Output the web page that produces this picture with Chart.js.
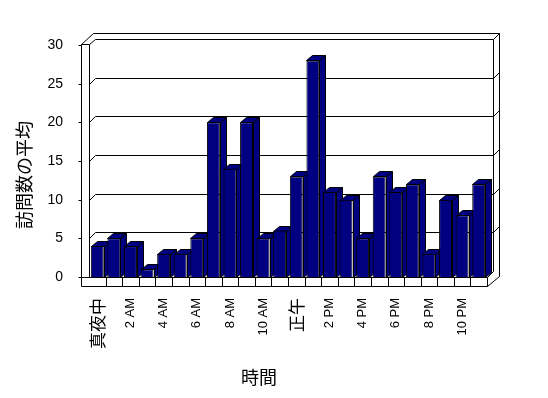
<!DOCTYPE html>
<html>
<head>
<meta charset="utf-8">
<script src="https://cdn.jsdelivr.net/npm/chart.js@4/dist/chart.umd.min.js"></script>
<style>
html,body{margin:0;padding:0;background:#fff;}
#wrap{width:548px;height:398px;position:relative;}
</style>
</head>
<body>
<div id="wrap"><canvas id="c"></canvas></div>
<script>
// ---- data ----
const categories = ["真夜中","1 AM","2 AM","3 AM","4 AM","5 AM","6 AM","7 AM","8 AM","9 AM","10 AM","11 AM",
                    "正午","1 PM","2 PM","3 PM","4 PM","5 PM","6 PM","7 PM","8 PM","9 PM","10 PM","11 PM"];
const visits = [4,5,4,1,3,3,5,20,14,20,5,6,13,28,11,10,5,13,11,12,3,10,8,12];
const yTicks = [0,5,10,15,20,25,30];
const yTitle = "訪問数の平均";
const xTitle = "時間";

const LAT = "'Liberation Sans', Arial, sans-serif";
const CJK = "'Noto Sans CJK JP', sans-serif";
const isCJK = s => /[\u3000-\u9fff]/.test(s);

const D = 6;          // wall depth offset
const BX = 6, BY = 5; // bar depth offset

function line(ctx, pts){
  ctx.beginPath();
  ctx.moveTo(pts[0][0]+0.5, pts[0][1]+0.5);
  for(let i=1;i<pts.length;i++) ctx.lineTo(pts[i][0]+0.5, pts[i][1]+0.5);
  ctx.stroke();
}

const box3d = {
  id:'box3d',
  beforeDatasetsDraw(chart){
    const ctx = chart.ctx, a = chart.chartArea;
    const ys = chart.scales.y, xs = chart.scales.x;
    const L = Math.round(a.left), R = Math.round(a.right), T = Math.round(a.top), B = Math.round(a.bottom);
    const WL = L - 8;       // left wall outer edge
    const FB = B + 9;       // floor bottom
    const OT = T - 12;      // outer top
    ctx.save();
    ctx.strokeStyle = '#000';
    ctx.lineWidth = 1;
    // back wall inner plane edges
    line(ctx, [[L+D, T-D],[R+D, T-D],[R+D, B-D]]);
    // back wall outer
    line(ctx, [[WL+12, OT],[R+12, OT],[R+12, B-1]]);
    line(ctx, [[R+D, T-D],[R+12, OT]]);
    // left wall
    line(ctx, [[WL, T-1],[WL, FB]]);
    line(ctx, [[L, T-1],[L, B]]);
    line(ctx, [[WL, T-1],[L, T-1]]);
    line(ctx, [[WL, T-1],[WL+12, OT]]);
    line(ctx, [[L, T-1],[L+D, T-D]]);
    // gridlines on left + back wall, edge ticks
    yTicks.forEach(v=>{
      const y = Math.round(ys.getPixelForValue(v));
      if (v>0 && v<30){
        line(ctx, [[L, y],[L+D, y-D],[R+D, y-D],[R+12, y-12]]);
      }
      line(ctx, [[WL-3, y],[WL, y]]);
    });
    // floor slab with category cells
    line(ctx, [[WL, B],[R, B],[R, FB],[WL, FB]]);
    for (let i=1;i<categories.length;i++){
      const x = Math.round((xs.getPixelForValue(i-1)+xs.getPixelForValue(i))/2);
      line(ctx, [[x, B],[x, FB]]);
    }
    line(ctx, [[R, B],[R+D, B-D]]);
    line(ctx, [[R, FB],[R+12, FB-10]]);
    // bar sides and tops (fronts drawn by Chart.js)
    const meta = chart.getDatasetMeta(0);
    meta.data.forEach(el=>{
      const p = el.getProps(['x','y','base','width'], true);
      const x1 = Math.round(p.x - p.width/2), x2 = Math.round(p.x + p.width/2);
      const y = Math.round(p.y), b = Math.round(p.base);
      ctx.fillStyle = '#000080';
      ctx.beginPath();
      ctx.moveTo(x2+0.5, y+0.5); ctx.lineTo(x2+BX+0.5, y-BY+0.5);
      ctx.lineTo(x2+BX+0.5, b-BY+0.5); ctx.lineTo(x2+0.5, b+0.5); ctx.closePath();
      ctx.fill(); ctx.stroke();
      ctx.beginPath();
      ctx.moveTo(x1+0.5, y+0.5); ctx.lineTo(x1+BX+0.5, y-BY+0.5);
      ctx.lineTo(x2+BX+0.5, y-BY+0.5); ctx.lineTo(x2+0.5, y+0.5); ctx.closePath();
      ctx.fill(); ctx.stroke();
    });
    ctx.restore();
  },
  afterDraw(chart){
    const ctx = chart.ctx;
    ctx.save();
    ctx.fillStyle = '#000';
    ctx.font = "18px " + CJK;
    ctx.textAlign = 'center';
    ctx.textBaseline = 'middle';
    ctx.fillText(xTitle, 259, 377);
    ctx.translate(24, 175);
    ctx.rotate(-Math.PI/2);
    ctx.fillText(yTitle, 0, 0);
    ctx.restore();
  }
};

new Chart(document.getElementById('c'), {
  type:'bar',
  data:{
    labels: categories,
    datasets:[{
      data: visits,
      backgroundColor:'#000080',
      borderColor:'#000',
      borderWidth:1,
      barPercentage:0.78,
      categoryPercentage:1.0
    }]
  },
  options:{
    responsive:true,
    maintainAspectRatio:false,
    animation:false,
    events:[],
    layout:{padding:{left:0,top:45,right:61,bottom:0}},
    plugins:{legend:{display:false},tooltip:{enabled:false},title:{display:false}},
    scales:{
      x:{
        grid:{display:false,drawTicks:false},
        border:{display:false},
        afterFit(s){ s.height = 121; },
        ticks:{
          autoSkip:false,
          minRotation:90,maxRotation:90,
          padding:21,
          color:'#000',
          font:(ctx)=>{
            const lab = categories[ctx.index] || '';
            return isCJK(lab) ? {family:CJK,size:17} : {family:LAT,size:13};
          },
          callback:(v,i)=> i%2===0 ? categories[i] : ''
        }
      },
      y:{
        min:0,max:30,
        grid:{display:false,drawTicks:false},
        border:{display:false},
        afterFit(s){ s.width = 89; },
        afterBuildTicks(s){ s.ticks = yTicks.map(v=>({value:v})); },
        ticks:{
          padding:26,
          color:'#000',
          font:{family:LAT,size:14}
        }
      }
    }
  },
  plugins:[box3d]
});
</script>
</body>
</html>
